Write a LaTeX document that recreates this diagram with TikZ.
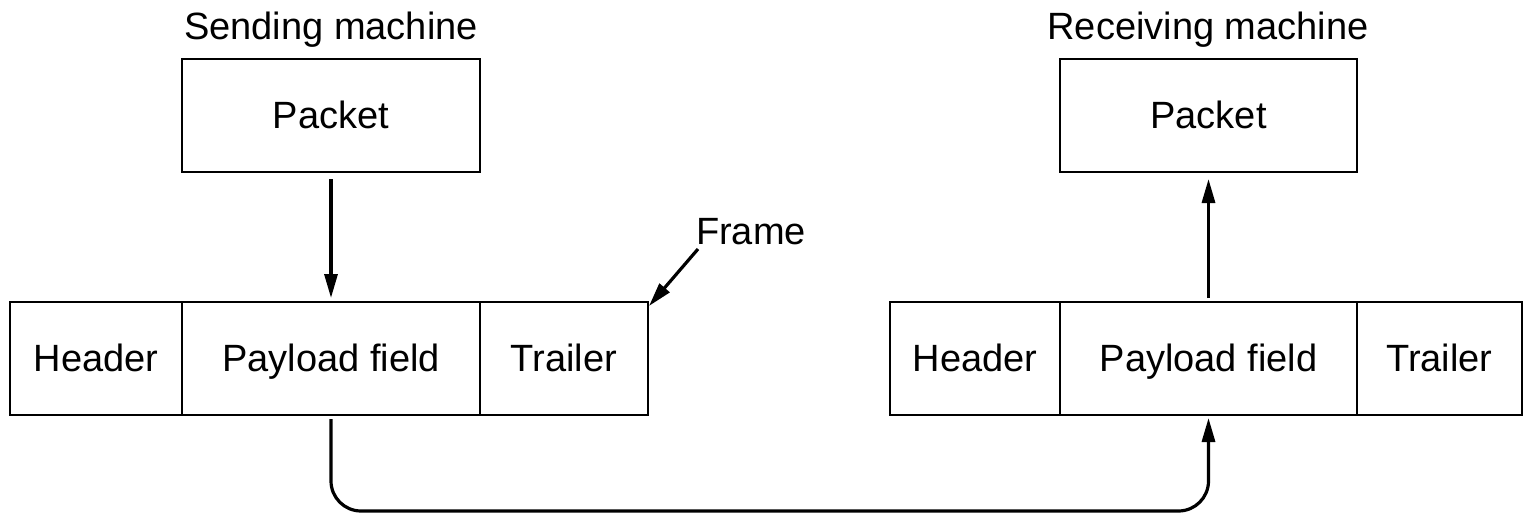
\documentclass[tikz,border=0pt]{standalone}
\usepackage{fontspec}
\setmainfont{Liberation Sans}
\usetikzlibrary{arrows.meta}
\begin{document}
\begin{tikzpicture}[x=1pt,y=-1pt,
  cell/.style={draw,line width=2.2pt,inner sep=0pt,outer sep=0pt,minimum height=113pt,text height=26pt,text depth=0pt,font=\fontsize{38}{45}\selectfont},
  lbl/.style={inner sep=0pt,text height=26pt,text depth=0pt,font=\fontsize{38}{45}\selectfont},
  arr/.style={line width=3.2pt,-{Triangle[length=24pt,width=13pt]}}]
\useasboundingbox (0,0) rectangle (1524,512);
% sending side
\node[lbl] (sm) at (331,26) {Sending machine};
\node[cell,minimum width=298pt] (spk) at (331,115.5) {Packet};
\node[cell,minimum width=172pt] (lh) at (96,358.5) {Header};
\node[cell,minimum width=298pt] (lp) at (331,358.5) {Payload field};
\node[cell,minimum width=168pt] (lt) at (564,358.5) {Trailer};
% receiving side
\node[lbl] (rm) at (1208,26) {Receiving machine};
\node[cell,minimum width=297pt] (rpk) at (1208.5,115.5) {Packet};
\node[cell,minimum width=170pt] (rh) at (975,358.5) {Header};
\node[cell,minimum width=297pt] (rp) at (1208.5,358.5) {Payload field};
\node[cell,minimum width=165pt] (rt) at (1439.5,358.5) {Trailer};
% frame label
\node[lbl] (fr) at (751,231) {Frame};
\coordinate (fs) at (698,249);
% connectors
\draw[arr] ([yshift=-7pt]spk.south) -- ([yshift=4pt]lp.north);
\draw[arr] ([yshift=4pt]rp.north) -- ([yshift=-7pt]rpk.south);
\draw[arr] (fs) -- ([shift={(1pt,-4pt)}]lt.north east);
\draw[arr,rounded corners=30pt] ([yshift=-4pt]lp.south) -- ++(0,92) -| ([yshift=-3pt]rp.south);
\end{tikzpicture}
\end{document}
